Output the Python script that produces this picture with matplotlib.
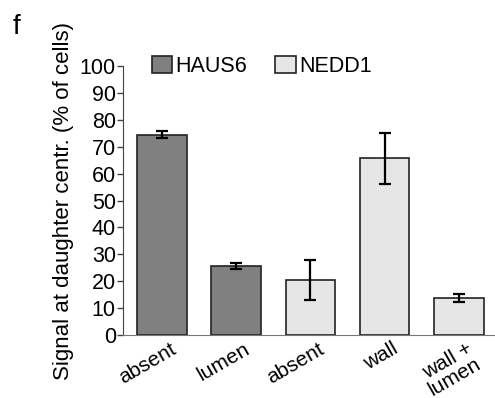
import numpy as np
import matplotlib.pyplot as plt
from matplotlib.patches import Patch

plt.rcParams['font.family'] = ['Liberation Sans', 'DejaVu Sans']

categories = ['absent', 'lumen', 'absent', 'wall', 'wall +\nlumen']
groups = ['HAUS6', 'HAUS6', 'NEDD1', 'NEDD1', 'NEDD1']
values = [74.5, 25.7, 20.5, 65.7, 13.8]
errors = [1.2, 1.2, 7.6, 9.4, 1.4]
yticks = [0, 10, 20, 30, 40, 50, 60, 70, 80, 90, 100]

colors = {'HAUS6': '#808080', 'NEDD1': '#e6e6e6'}

fig = plt.figure(figsize=(4.95, 3.98), dpi=100)
ax = fig.add_axes([0.248, 0.158, 0.752, 0.676])

x = np.arange(len(categories))
ax.bar(x, values, width=0.67, color=[colors[g] for g in groups],
       edgecolor='#222222', linewidth=1.2, zorder=2)
ax.errorbar(x, values, yerr=errors, fmt='none', ecolor='black',
            elinewidth=1.6, capsize=4, capthick=1.6, zorder=3)

ax.set_xlim(-0.53, 4.49)
ax.set_ylim(0, 100)
ax.set_yticks(yticks)
ax.tick_params(axis='y', labelsize=15.5, length=4, width=1, color='#444444', pad=1)
ax.tick_params(axis='x', length=0, labelsize=15, pad=3)
ax.set_xticks(x + 0.1)
ax.set_xticklabels(categories, rotation=30, ha='right', rotation_mode='anchor',
                   linespacing=0.9)

for s in ['top', 'right']:
    ax.spines[s].set_visible(False)
ax.spines['left'].set_color('#444444')
ax.spines['bottom'].set_color('#777777')

ax.set_ylabel('Signal at daughter centr. (% of cells)', fontsize=16, labelpad=4)

handles = [Patch(facecolor=colors['HAUS6'], edgecolor='#222222', linewidth=1.2),
           Patch(facecolor=colors['NEDD1'], edgecolor='#222222', linewidth=1.2)]
ax.legend(handles, ['HAUS6', 'NEDD1'], ncol=2, frameon=False, fontsize=15.5,
          loc='upper left', bbox_to_anchor=(0.055, 1.07), handlelength=0.95,
          handleheight=0.8, handletextpad=0.15, columnspacing=1.3, borderaxespad=0)

fig.text(0.026, 0.965, 'f', fontsize=20, va='top', ha='left')

fig.savefig('out.png', dpi=100)
